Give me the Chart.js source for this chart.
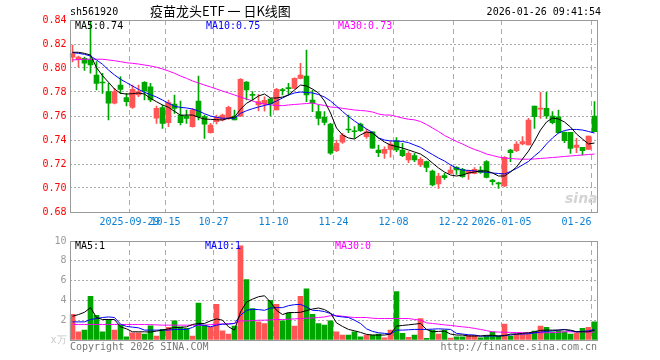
<!DOCTYPE html>
<html><head><meta charset="utf-8">
<script src="https://cdn.jsdelivr.net/npm/chart.js@4"></script>
<style>
html,body{margin:0;padding:0;background:#fff;}
#wrap{position:relative;width:660px;height:360px;overflow:hidden;font-family:"DejaVu Sans Mono",monospace;font-size:10px;color:#000;}
.t{position:absolute;white-space:pre;line-height:12px;}
canvas{position:absolute;left:0;}
</style></head><body>
<div id="wrap">
<canvas id="kc" width="660" height="232" style="top:0px"></canvas>
<canvas id="vc" width="660" height="128" style="top:232px"></canvas>
<div class="t" style="left:70px;top:6px;">sh561920</div>
<div class="t" style="left:150px;top:3px;font-family:'Noto Sans CJK SC',sans-serif;font-size:13px;line-height:16px;">疫苗龙头ETF 一 日K线图</div>
<div class="t" style="right:59px;top:6px;">2026-01-26 09:41:54</div>
<div class="t" style="left:75px;top:20px;color:#000;">MA5:0.74</div>
<div class="t" style="left:206px;top:20px;color:#0000ff;">MA10:0.75</div>
<div class="t" style="left:338px;top:20px;color:#ff00ff;">MA30:0.73</div>
<div class="t" style="left:565px;top:190px;color:#d4d4d4;font-family:'DejaVu Sans',sans-serif;font-size:14px;font-weight:bold;font-style:italic;line-height:16px;">sina</div>
<div class="t" style="left:75px;top:240px;color:#000;">MA5:1</div>
<div class="t" style="left:205px;top:240px;color:#0000ff;">MA10:1</div>
<div class="t" style="left:335px;top:240px;color:#ff00ff;">MA30:0</div>
<div class="t" style="left:70px;top:341px;color:#777;">Copyright 2026 SINA.COM</div>
<div class="t" style="right:63px;top:341px;color:#777;">http://finance.sina.com.cn</div>
</div>
<script>
const dates = ['2025-09-15','2025-09-16','2025-09-17','2025-09-18','2025-09-19','2025-09-22','2025-09-23','2025-09-24','2025-09-25','2025-09-26',
'2025-09-29','2025-09-30','2025-10-09','2025-10-10','2025-10-13','2025-10-14','2025-10-15','2025-10-16','2025-10-17','2025-10-20',
'2025-10-21','2025-10-22','2025-10-23','2025-10-24','2025-10-27','2025-10-28','2025-10-29','2025-10-30','2025-10-31','2025-11-03',
'2025-11-04','2025-11-05','2025-11-06','2025-11-07','2025-11-10','2025-11-11','2025-11-12','2025-11-13','2025-11-14','2025-11-17',
'2025-11-18','2025-11-19','2025-11-20','2025-11-21','2025-11-24','2025-11-25','2025-11-26','2025-11-27','2025-11-28','2025-12-01',
'2025-12-02','2025-12-03','2025-12-04','2025-12-05','2025-12-08','2025-12-09','2025-12-10','2025-12-11','2025-12-12','2025-12-15',
'2025-12-16','2025-12-17','2025-12-18','2025-12-19','2025-12-22','2025-12-23','2025-12-24','2025-12-25','2025-12-26','2025-12-29',
'2025-12-30','2025-12-31','2026-01-05','2026-01-06','2026-01-07','2026-01-08','2026-01-09','2026-01-12','2026-01-13','2026-01-14',
'2026-01-15','2026-01-16','2026-01-19','2026-01-20','2026-01-21','2026-01-22','2026-01-23','2026-01-26'];

const tickDates = ['2025-09-29','2025-10-15','2025-10-27','2025-11-10','2025-11-24','2025-12-08','2025-12-22','2026-01-05','2026-01-26'];
const tickLabels = ['2025-09-29','10-15','10-27','11-10','11-24','12-08','12-22','2026-01-05','01-26'];

const open = [0.809,0.807,0.808,0.807,0.7942,0.788,0.7803,0.7706,0.7858,0.7753,
0.7672,0.7775,0.7881,0.7844,0.7581,0.767,0.7544,0.770,0.7608,0.760,
0.7511,0.7725,0.7595,0.7461,0.7553,0.7567,0.7581,0.760,0.760,0.7883,
0.7775,0.7692,0.770,0.7742,0.765,0.7814,0.7831,0.783,0.7914,0.7933,
0.7733,0.7636,0.7589,0.7533,0.7311,0.7381,0.7486,0.7472,0.7533,0.7428,
0.7469,0.7317,0.7289,0.7322,0.7392,0.7317,0.7233,0.727,0.7192,0.722,
0.7142,0.7033,0.7103,0.7122,0.7172,0.7156,0.7122,0.7122,0.715,0.722,
0.7067,0.7044,0.7017,0.7317,0.7311,0.7367,0.7358,0.7683,0.7656,0.7664,
0.760,0.7594,0.7464,0.7464,0.7339,0.7339,0.7322,0.760];
const high = [0.819,0.810,0.809,0.838,0.8053,0.7956,0.7872,0.783,0.7928,0.7789,
0.7858,0.7858,0.7886,0.7872,0.7683,0.769,0.7733,0.7775,0.7725,0.765,
0.7664,0.7933,0.7608,0.7539,0.7608,0.7615,0.7683,0.765,0.7911,0.7886,
0.7803,0.7781,0.776,0.7747,0.783,0.783,0.7872,0.7919,0.8039,0.815,
0.7817,0.7692,0.7636,0.7539,0.74,0.7456,0.7608,0.7511,0.754,0.749,
0.7469,0.7358,0.7344,0.7386,0.742,0.7372,0.7303,0.7289,0.7253,0.7225,
0.715,0.7122,0.7122,0.7178,0.7178,0.7164,0.715,0.717,0.7178,0.7228,
0.7072,0.705,0.7261,0.7322,0.7386,0.7428,0.758,0.7683,0.7797,0.7797,
0.7636,0.765,0.7469,0.7464,0.7414,0.7339,0.7433,0.772];
const low = [0.805,0.801,0.798,0.7956,0.7817,0.7789,0.7567,0.770,0.7789,0.7683,
0.7664,0.7761,0.7733,0.7719,0.7539,0.7497,0.7511,0.7622,0.7525,0.7539,
0.7506,0.7567,0.7414,0.7456,0.7533,0.756,0.7572,0.7567,0.7594,0.7733,
0.7733,0.7642,0.764,0.760,0.765,0.7775,0.7775,0.7825,0.7908,0.7719,
0.7636,0.7525,0.7525,0.728,0.7303,0.7372,0.7461,0.7414,0.7472,0.7414,
0.733,0.7261,0.7247,0.7256,0.7303,0.7261,0.7211,0.7219,0.7178,0.7136,
0.7017,0.6997,0.7072,0.7122,0.7114,0.7089,0.7072,0.7117,0.7122,0.7083,
0.7025,0.6997,0.7011,0.722,0.7303,0.7358,0.7358,0.7497,0.758,0.758,
0.7533,0.7456,0.7378,0.7289,0.7294,0.7275,0.7322,0.747];
const close = [0.812,0.809,0.804,0.8025,0.7872,0.7875,0.7706,0.7803,0.7822,0.772,
0.7822,0.7803,0.7808,0.7733,0.7664,0.7539,0.7711,0.7664,0.7544,0.758,
0.765,0.7595,0.7531,0.7525,0.7589,0.7608,0.7672,0.7567,0.7906,0.7817,
0.7772,0.772,0.773,0.770,0.7822,0.7811,0.7828,0.7914,0.7942,0.7775,
0.771,0.758,0.7547,0.729,0.7372,0.7442,0.7483,0.7469,0.7478,0.7469,
0.7331,0.7294,0.7322,0.7367,0.7317,0.727,0.7289,0.7233,0.7239,0.7172,
0.7025,0.71,0.7086,0.715,0.715,0.7094,0.7142,0.7156,0.713,0.7089,
0.7053,0.7033,0.7256,0.7294,0.7367,0.7386,0.7567,0.7594,0.7667,0.760,
0.7544,0.7461,0.7394,0.733,0.7358,0.7311,0.7433,0.747];

const ma5 = [0.8131,0.8131,0.8122,0.8108,0.8003,0.7936,0.7881,0.7825,0.7789,0.7783,
0.7786,0.7792,0.7783,0.7747,0.7719,0.7692,0.7672,0.7639,0.7606,0.7608,
0.7608,0.7589,0.7575,0.7572,0.7569,0.7567,0.7581,0.7592,0.7656,0.7706,
0.7733,0.7767,0.7783,0.775,0.775,0.7758,0.7775,0.7817,0.7858,0.785,
0.7825,0.7792,0.7725,0.7625,0.75,0.7442,0.7417,0.7408,0.7442,0.7467,
0.7458,0.7417,0.7383,0.7358,0.7346,0.7333,0.7317,0.73,0.7283,0.725,
0.7208,0.7167,0.7133,0.7108,0.71,0.7108,0.7125,0.7133,0.7142,0.7142,
0.7125,0.71,0.71,0.7133,0.7175,0.7242,0.7308,0.7392,0.7483,0.755,
0.7583,0.7575,0.755,0.7508,0.745,0.7408,0.7367,0.7375];
const ma10 = [0.8128,0.8122,0.8114,0.81,0.8067,0.8031,0.7983,0.7942,0.7906,0.7878,
0.785,0.7822,0.7797,0.7778,0.7758,0.7733,0.7706,0.7681,0.7672,0.7667,
0.7658,0.7642,0.7619,0.76,0.7589,0.7581,0.7581,0.7581,0.7622,0.7644,
0.7661,0.7675,0.7688,0.77,0.7725,0.775,0.7775,0.7792,0.78,0.7796,
0.7792,0.7779,0.7758,0.7725,0.7683,0.7638,0.7596,0.7558,0.7525,0.7492,
0.7463,0.7417,0.74,0.7392,0.7392,0.7388,0.7378,0.7358,0.7339,0.7308,
0.7279,0.725,0.7225,0.7192,0.7167,0.715,0.7146,0.7142,0.7136,0.7131,
0.7125,0.7121,0.7117,0.7138,0.7163,0.7192,0.7221,0.7267,0.7308,0.7367,
0.7417,0.7458,0.7479,0.7488,0.7488,0.7483,0.7471,0.7458];
const ma30 = [0.8067,0.807,0.8073,0.8073,0.8073,0.8073,0.8067,0.8061,0.8053,0.8044,
0.8039,0.8033,0.8025,0.8017,0.8006,0.7992,0.7975,0.7956,0.7933,0.7914,
0.7892,0.7875,0.7858,0.7842,0.7825,0.7808,0.7792,0.7775,0.7758,0.7742,
0.7725,0.7708,0.77,0.7692,0.7688,0.7686,0.7692,0.7696,0.77,0.7704,
0.7708,0.7696,0.7688,0.7675,0.7671,0.7664,0.7657,0.765,0.7646,0.7642,
0.7633,0.7617,0.7608,0.7608,0.7596,0.7583,0.7573,0.7568,0.7554,0.7529,
0.75,0.7471,0.7438,0.7413,0.7388,0.7367,0.7342,0.7321,0.7304,0.7283,
0.7271,0.7258,0.725,0.7246,0.7242,0.724,0.724,0.7242,0.7246,0.725,
0.7254,0.7258,0.7263,0.7267,0.7271,0.7275,0.7279,0.7283];

const vol = [2.6,0.83,1.0,4.4,2.5,0.83,2.07,1.0,1.5,0.33,
0.73,0.73,0.6,1.43,0.4,1.07,1.27,1.93,1.33,1.17,
0.4,3.73,1.5,1.33,3.6,0.93,0.6,1.4,9.5,6.1,
3.17,1.83,1.67,4.0,3.6,1.93,2.73,1.4,4.4,5.17,
2.6,1.67,1.5,1.93,0.83,0.5,0.5,0.83,0.33,0.5,
0.5,0.6,0.23,1.0,4.9,0.67,0.27,0.5,2.17,0.17,
1.0,0.6,1.0,0.2,0.33,0.33,0.47,0.47,0.23,0.4,
0.83,0.4,1.6,0.4,0.6,0.6,0.6,0.9,1.4,1.27,
0.83,0.9,0.83,0.6,0.73,1.17,1.27,1.83];
const vma5 = [2.4,2.57,2.8,3.27,2.27,2.07,2.07,2.07,1.33,1.13,
0.83,0.83,0.83,0.8,0.9,1.0,1.13,1.27,1.27,1.33,
1.57,1.67,1.67,1.93,2.13,2.0,1.33,1.0,2.83,3.83,
4.13,4.37,4.47,3.83,3.0,2.57,2.77,2.77,2.8,2.97,
3.13,3.23,3.07,2.73,1.73,1.37,1.07,0.93,0.77,0.57,
0.5,0.5,0.5,0.6,1.4,1.47,1.53,1.6,1.67,1.07,
0.83,0.87,0.9,0.6,0.5,0.5,0.4,0.4,0.4,0.47,
0.47,0.4,0.43,0.6,0.6,0.67,0.73,0.83,0.97,1.0,
1.0,1.0,1.03,1.0,0.83,0.83,0.83,0.97];
const vma10 = [1.83,1.83,1.83,2.07,2.17,2.27,2.33,2.27,1.6,1.37,
1.3,1.23,1.0,1.0,1.0,1.0,1.0,1.07,1.07,1.07,
1.27,1.57,1.47,1.33,1.5,1.6,1.6,1.67,2.5,3.0,
3.1,3.07,3.0,3.23,3.27,3.27,3.47,3.57,3.6,3.33,
3.0,2.97,2.87,2.67,2.4,2.33,2.27,2.0,1.67,1.13,
0.87,0.73,0.67,0.6,1.0,1.0,1.03,1.07,1.07,1.07,
1.1,1.13,1.1,1.07,0.67,0.6,0.53,0.5,0.4,0.4,
0.4,0.4,0.47,0.5,0.6,0.6,0.63,0.73,0.8,0.87,
0.93,1.0,1.07,0.93,0.83,0.87,0.93,1.07];
const vma30 = [1.57,1.57,1.57,1.57,1.57,1.57,1.57,1.57,1.57,1.57,
1.57,1.57,1.57,1.55,1.53,1.5,1.5,1.5,1.5,1.5,
1.5,1.47,1.5,1.55,1.6,1.62,1.65,1.67,1.93,1.93,
1.95,2.0,2.0,2.03,2.07,2.07,2.1,2.13,2.17,2.2,
2.23,2.27,2.33,2.45,2.47,2.4,2.33,2.27,2.27,2.27,
2.2,2.17,2.17,2.17,2.17,2.17,2.17,2.08,2.0,1.73,
1.67,1.6,1.53,1.47,1.4,1.33,1.27,1.17,1.07,0.95,
0.83,0.8,0.78,0.77,0.75,0.74,0.73,0.73,0.73,0.73,
0.75,0.78,0.83,0.83,0.83,0.82,0.8,0.8];

const RED = '#ff5555', GREEN = '#00a600';
const MONO = "'DejaVu Sans Mono', monospace";
Chart.defaults.font.family = MONO;
Chart.defaults.font.size = 10;

const candleColors = close.map((c, i) => c >= open[i] ? RED : GREEN);
const tickMap = {};
tickDates.forEach((d, j) => { tickMap[dates.indexOf(d)] = tickLabels[j]; });
const lastIdx = dates.length - 1;

const framePlugin = {
  id: 'frame',
  afterDraw(chart) {
    const { ctx, chartArea: a } = chart;
    ctx.save();
    ctx.strokeStyle = '#9a9a9a';
    ctx.lineWidth = 1;
    const l = Math.round(a.left) + 0.5, t = Math.round(a.top) + 0.5;
    const r = Math.floor(a.right) + 0.5, b = Math.round(a.bottom) + 0.5;
    ctx.strokeRect(l, t, r - l, b - t);
    ctx.restore();
  }
};

function lineDs(data, color) {
  return { type: 'line', data, borderColor: color, borderWidth: 1, pointRadius: 0, tension: 0, fill: false, order: 0 };
}

function xScale(showLabels) {
  return {
    type: 'category', offset: true,
    grid: { offset: true, drawTicks: false, lineWidth: 1,
      color: (c) => (tickMap[c.index] !== undefined ? '#ababab' : 'rgba(0,0,0,0)') },
    border: { display: false, dash: [5, 4] },
    ticks: {
      display: showLabels, autoSkip: false, maxRotation: 0, minRotation: 0, padding: 4, labelOffset: -3,
      color: '#0b7fd4', font: { family: MONO, size: 10 },
      callback: (v, i) => {
        const s = tickMap[i];
        if (s === undefined) return '';
        return i === lastIdx ? s + '     ' : s;
      }
    },
    afterFit: (s) => { s.height = 20; }
  };
}

new Chart(document.getElementById('kc'), {
  data: {
    labels: dates,
    datasets: [
      lineDs(ma5, '#000000'),
      lineDs(ma10, '#0000ff'),
      lineDs(ma30, '#ff00ff'),
      { type: 'bar', data: dates.map((d, i) => [open[i], close[i]]), backgroundColor: candleColors,
        barThickness: 5, grouped: false, minBarLength: 1, order: 1 },
      { type: 'bar', data: dates.map((d, i) => [low[i], high[i]]), backgroundColor: candleColors,
        barThickness: 1, grouped: false, order: 2 }
    ]
  },
  options: {
    responsive: false, animation: false, devicePixelRatio: 1,
    layout: { padding: { top: 20, right: 62.5, left: 0, bottom: 0 } },
    plugins: { legend: { display: false }, tooltip: { enabled: false } },
    scales: {
      x: xScale(true),
      y: {
        min: 0.68, max: 0.84,
        ticks: { stepSize: 0.02, color: '#ff0000', padding: 3, font: { family: MONO, size: 10 },
          callback: (v) => Number(v).toFixed(2) },
        grid: { drawTicks: false, lineWidth: 1,
          color: (c) => (c.tick && c.tick.value > 0.69 && c.tick.value < 0.83 ? '#ababab' : 'rgba(0,0,0,0)') },
        border: { display: false, dash: [2, 2] },
        afterFit: (s) => { s.width = 69.5; }
      }
    }
  },
  plugins: [framePlugin]
});

new Chart(document.getElementById('vc'), {
  data: {
    labels: dates,
    datasets: [
      lineDs(vma5, '#000000'),
      lineDs(vma10, '#0000ff'),
      lineDs(vma30, '#ff00ff'),
      { type: 'bar', data: vol, backgroundColor: candleColors, barThickness: 5, grouped: false, order: 1 }
    ]
  },
  options: {
    responsive: false, animation: false, devicePixelRatio: 1,
    layout: { padding: { top: 8, right: 62.5, left: 0, bottom: 0 } },
    plugins: { legend: { display: false }, tooltip: { enabled: false } },
    scales: {
      x: xScale(false),
      y: {
        min: 0, max: 10,
        ticks: { stepSize: 2, padding: 3, font: { family: MONO, size: 10 },
          color: (c) => (c.tick && c.tick.value === 0 ? '#c8c8c8' : '#9a9a9a'),
          callback: (v) => (v === 0 ? 'x万' : String(v)) },
        grid: { drawTicks: false, lineWidth: 1,
          color: (c) => (c.tick && c.tick.value > 0 && c.tick.value < 10 ? '#ababab' : 'rgba(0,0,0,0)') },
        border: { display: false, dash: [2, 2] },
        afterFit: (s) => { s.width = 69.5; }
      }
    }
  },
  plugins: [framePlugin]
});
</script>
</body></html>
